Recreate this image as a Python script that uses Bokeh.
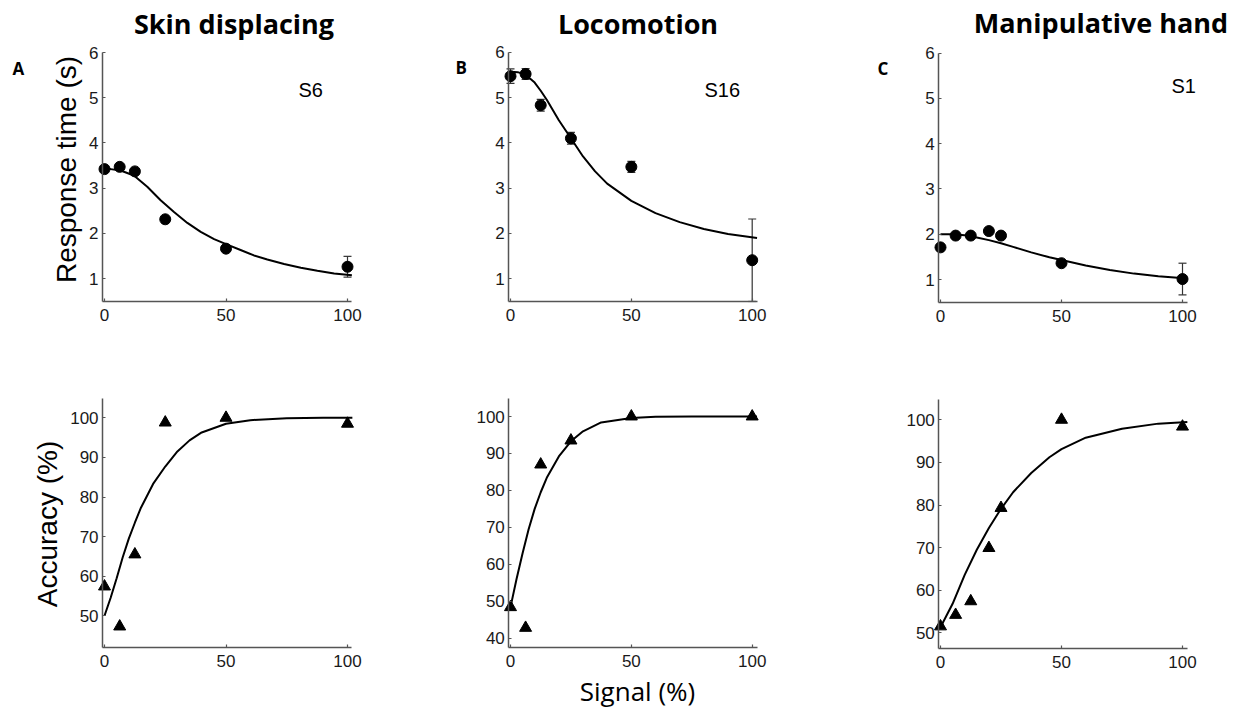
import math
from bokeh.plotting import figure
from bokeh.models import Range1d, Label, Whisker, TeeHead, ColumnDataSource, LinearAxis, FixedTicker
from bokeh.embed import file_html
from bokeh.resources import INLINE

# ---------------- data ----------------
titles = ["Skin displacing", "Locomotion", "Manipulative hand"]
panel_letters = ["A", "B", "C"]
subjects = ["S6", "S16", "S1"]

sig_a = [0, 6.25, 12.5, 25, 50, 100]
rt_a = [3.42, 3.47, 3.37, 2.31, 1.66, 1.26]
rt_a_err = [0.04, 0.04, 0.04, 0.04, 0.04, 0.23]
acc_a = [57.4, 47.3, 65.5, 98.8, 100.0, 98.5]

sig_b = [0, 6.25, 12.5, 25, 50, 100]
rt_b = [5.47, 5.52, 4.83, 4.10, 3.47, 1.41]
rt_b_err = [0.16, 0.12, 0.13, 0.13, 0.12, 0.91]
acc_b = [48.4, 42.8, 87.0, 93.5, 100.0, 100.0]

sig_c = [0, 6.25, 12.5, 20, 25, 50, 100]
rt_c = [1.71, 1.97, 1.97, 2.07, 1.97, 1.36, 1.01]
rt_c_err = [0.04, 0.04, 0.04, 0.04, 0.04, 0.04, 0.35]
acc_c = [51.5, 54.2, 57.4, 69.9, 79.3, 100.0, 98.4]

# fitted curves
fit_rt_a_x = [0, 2.5, 6.6, 12.1, 17.6, 23.1, 28.6, 34.1, 39.6, 45.1, 50.5, 56, 61.5, 67, 73.9, 80.8, 87.6, 94.5, 101.8]
fit_rt_a_y = [3.43, 3.42, 3.39, 3.28, 3.03, 2.73, 2.47, 2.23, 2.03, 1.87, 1.75, 1.63, 1.51, 1.42, 1.32, 1.24, 1.17, 1.11, 1.07]

fit_rt_b_x = [0, 3, 6.25, 10, 12.5, 15, 20, 25, 30, 35, 40, 50, 60, 70, 80, 90, 102]
fit_rt_b_y = [5.57, 5.56, 5.50, 5.33, 5.15, 4.95, 4.50, 4.10, 3.70, 3.37, 3.10, 2.72, 2.45, 2.25, 2.10, 1.99, 1.90]

fit_rt_c_x = [0, 5, 10, 15, 20, 25, 30, 37.5, 45, 50, 60, 70, 80, 90, 102]
fit_rt_c_y = [2.00, 2.00, 1.98, 1.93, 1.87, 1.80, 1.72, 1.60, 1.49, 1.43, 1.31, 1.21, 1.13, 1.07, 1.02]

fit_acc_a_x = [0, 2.5, 5, 7.5, 10, 12.5, 15, 20, 25, 30, 35, 40, 50, 60, 75, 90, 102]
fit_acc_a_y = [50, 54.5, 59.5, 64.8, 69.5, 73.5, 77.3, 83.3, 87.7, 91.5, 94.3, 96.3, 98.5, 99.4, 99.9, 100, 100]

fit_acc_b_x = [0, 2.5, 5, 7.5, 10, 12.5, 15, 20, 25, 30, 37.5, 50, 60, 75, 102]
fit_acc_b_y = [48.4, 56, 63, 69.5, 75, 79.5, 83.4, 89.2, 93.3, 96, 98.4, 99.6, 99.9, 100, 100]

fit_acc_c_x = [0, 5, 10, 15, 20, 25, 30, 37.5, 45, 50, 60, 75, 90, 102]
fit_acc_c_y = [51.3, 56.8, 63.6, 69.5, 74.6, 79.1, 83.0, 87.5, 91.2, 93.1, 95.8, 97.9, 99.1, 99.5]

x_ticks = [0, 50, 100]
rt_ticks = [1, 2, 3, 4, 5, 6]
acc_ticks_a = [50, 60, 70, 80, 90, 100]
acc_ticks_b = [40, 50, 60, 70, 80, 90, 100]
acc_ticks_c = [50, 60, 70, 80, 90, 100]

# ---------------- page geometry (pixels) ----------------
W, H = 1242, 711
AX = "#555555"

p = figure(width=W, height=H, min_border=0, x_range=Range1d(0, W), y_range=Range1d(H, 0),
           x_axis_location=None, y_axis_location=None,
           output_backend="svg", toolbar_location=None)
p.grid.visible = False
p.outline_line_color = None


def xrange_from(pa, va, pb, vb):
    s = (pb - pa) / (vb - va)
    return Range1d(va - pa / s, va + (W - pa) / s)


def yrange_from(pa, va, pb, vb):
    s = (pb - pa) / (va - vb)          # pixels per unit (page y grows downward)
    return Range1d(va + (pa - H) / s, va + pa / s)


def panel(name, xa, ya, xb, yb, yticks):
    """xa: (px at 0, px at 100); ya: ((px, val), (px, val)); xb/yb: axis bounds"""
    xn, yn = "x" + name, "y" + name
    p.extra_x_ranges[xn] = xrange_from(xa[0], 0, xa[1], 100)
    p.extra_y_ranges[yn] = yrange_from(ya[0][0], ya[0][1], ya[1][0], ya[1][1])
    xax = LinearAxis(x_range_name=xn, y_range_name=yn, fixed_location=yb[0], bounds=xb,
                     ticker=FixedTicker(ticks=x_ticks))
    yax = LinearAxis(x_range_name=xn, y_range_name=yn, fixed_location=xb[0], bounds=yb,
                     ticker=FixedTicker(ticks=yticks))
    for ax in (xax, yax):
        ax.axis_line_color = AX
        ax.axis_line_width = 1.5
        ax.major_tick_line_color = AX
        ax.major_tick_line_width = 1.2
        ax.major_tick_in = 3
        ax.major_tick_out = 0
        ax.minor_tick_line_color = None
        ax.major_label_text_font = "Liberation Sans"
        ax.major_label_text_font_size = "17px"
        ax.major_label_text_color = "#1a1a1a"
    yax.major_label_standoff = 4
    xax.major_label_standoff = 8
    p.add_layout(xax, "below")
    p.add_layout(yax, "left")
    return dict(x_range_name=xn, y_range_name=yn)


def rt_panel(rn, xs, ys, errs, fx, fy):
    p.line(fx, fy, line_color="black", line_width=2, **rn)
    src = ColumnDataSource(dict(x=xs, up=[v + e for v, e in zip(ys, errs)],
                                lo=[v - e for v, e in zip(ys, errs)]))
    p.add_layout(Whisker(source=src, base="x", upper="up", lower="lo", dimension="height",
                         line_color="#333333", line_width=1.2,
                         upper_head=TeeHead(size=8, line_color="#333333", line_width=1.2),
                         lower_head=TeeHead(size=8, line_color="#333333", line_width=1.2), **rn))
    p.scatter(xs, ys, marker="circle", size=11, color="black", **rn)


def acc_panel(rn, xs, ys, fx, fy):
    p.line(fx, fy, line_color="black", line_width=2, **rn)
    p.scatter(xs, ys, marker="triangle", size=12, color="black", **rn)


rA = panel("A", (104, 347), ((52, 6), (278, 1)), (-0.8, 101.6), (0.5, 6), rt_ticks)
rB = panel("B", (510, 751.7), ((51.7, 6), (278.3, 1)), (-0.7, 102.1), (0.5, 6), rt_ticks)
rC = panel("C", (940, 1182), ((52.7, 6), (279, 1)), (-0.7, 102.0), (0.5, 6), rt_ticks)
rD = panel("D", (104, 347), ((417.3, 100), (615.3, 50)), (-0.8, 101.6), (42.1, 104.9), acc_ticks_a)
rE = panel("E", (510, 751.7), ((416, 100), (637.7, 40)), (-0.7, 102.1), (37.6, 104.8), acc_ticks_b)
rF = panel("F", (940, 1182), ((419.3, 100), (632.3, 50)), (-0.7, 102.0), (46.4, 104.8), acc_ticks_c)

rt_panel(rA, sig_a, rt_a, rt_a_err, fit_rt_a_x, fit_rt_a_y)
rt_panel(rB, sig_b, rt_b, rt_b_err, fit_rt_b_x, fit_rt_b_y)
rt_panel(rC, sig_c, rt_c, rt_c_err, fit_rt_c_x, fit_rt_c_y)
acc_panel(rD, sig_a, acc_a, fit_acc_a_x, fit_acc_a_y)
acc_panel(rE, sig_b, acc_b, fit_acc_b_x, fit_acc_b_y)
acc_panel(rF, sig_c, acc_c, fit_acc_c_x, fit_acc_c_y)

SHIFT = 0.37  # measured offset of Bokeh's baseline anchor, in ems


def add_text(px, py, text, font, size, bold=False, align="left", rotated=False):
    if rotated:
        px = px - SHIFT * size
    else:
        py = py - SHIFT * size
    p.add_layout(Label(x=px, y=py, text=text, text_font=font, text_font_size=f"{size}px",
                       text_font_style="bold" if bold else "normal",
                       text_align=align, text_baseline="alphabetic",
                       angle=math.pi / 2 if rotated else 0.0, text_color="black"))


title_pos = [(233.5, 33), (637.5, 33), (1100.5, 32)]
letter_pos = [(12, 74), (455, 73), (877, 74)]
subj_pos = [(298, 97), (704, 97), (1171, 93)]
for t, lt, s, tp, lp, sp in zip(titles, panel_letters, subjects, title_pos, letter_pos, subj_pos):
    add_text(tp[0], tp[1], t, "Open Sans", 27, bold=True, align="center")
    add_text(lp[0], lp[1], lt, "Open Sans", 17, bold=True)
    add_text(sp[0], sp[1], s, "Liberation Sans", 20)

add_text(76, 169, "Response time (s)", "Liberation Sans", 28, align="center", rotated=True)
add_text(57.5, 523.5, "Accuracy (%)", "Liberation Sans", 28, align="center", rotated=True)
add_text(637, 700, "Signal (%)", "Open Sans", 26, align="center")

open("out.html", "w").write(file_html(p, INLINE))
